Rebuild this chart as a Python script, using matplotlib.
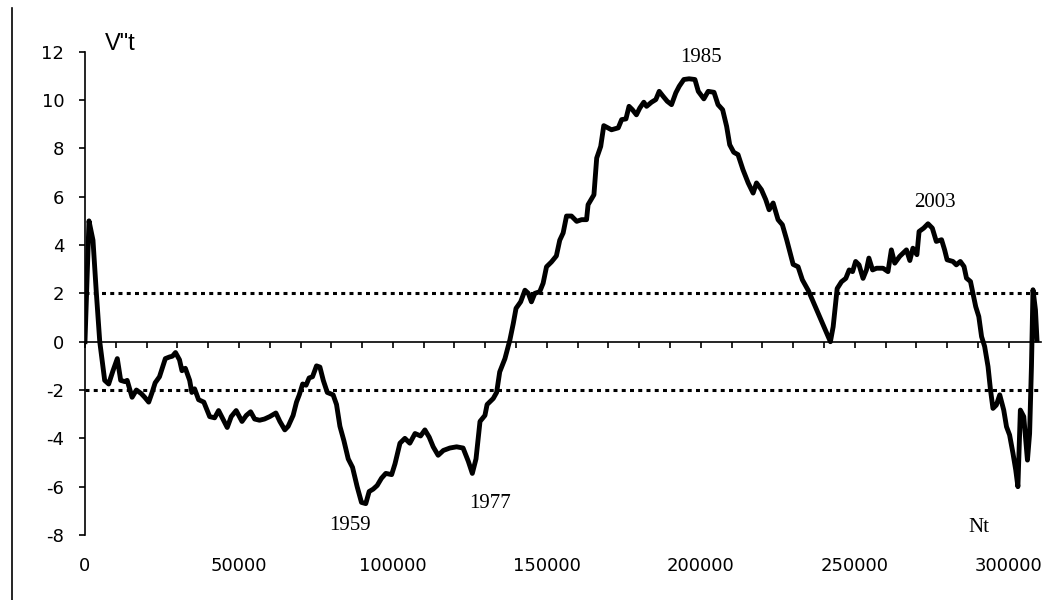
import matplotlib
matplotlib.use("Agg")
import matplotlib.pyplot as plt
from matplotlib.lines import Line2D

plt.rcParams['axes.unicode_minus'] = False
plt.rcParams['font.family'] = ['DejaVu Sans']

# curve V''t against Nt
nt = [0, 1300, 2600, 3700, 4800, 6400, 7700, 9100, 10500, 11600, 12900, 13700,
      15300, 16700, 18300, 19400, 20700, 21800, 22800, 24200, 26100, 27500, 28400,
      29400, 30700, 31500, 32600, 34000, 34700, 35600, 36900, 38600, 40500, 42100,
      43400, 44800, 46200, 47500, 49100, 51000, 52400, 53800, 55100, 56700, 58300,
      60000, 62000, 63300, 64900, 66000, 67600, 68700, 69600, 70700, 71800, 72800,
      73900, 75200, 76300, 77400, 78700, 80600, 81700, 82800, 84100, 85500, 86900,
      88400, 89800, 91200, 92300, 93600, 94900, 96300, 97700, 99600, 100700, 102300,
      103900, 105500, 107200, 109000, 110400, 111800, 113100, 114700, 116400, 118500,
      120700, 122800, 124500, 125800, 127000, 128300, 129900, 130600, 132600, 133700,
      134700, 136400, 138000, 139100, 140000, 141500, 142900, 144000, 145000, 146100,
      147700, 148800, 149900, 151500, 153100, 154200, 155300, 156400, 158000, 159700,
      161300, 162900, 163400, 165300, 166200, 167500, 168500, 171000, 173200, 174300,
      175700, 176700, 177800, 179100, 180200, 181500, 182400, 184000, 185400, 186500,
      187800, 189100, 190500, 191900, 193000, 194500, 196200, 198100, 199200, 201000,
      202400, 204300, 205600, 207100, 208400, 209400, 210700, 212100, 213700, 215400,
      217000, 218100, 219700, 221100, 222200, 223500, 225100, 226500, 227900, 230000,
      231600, 233000, 235000, 238700, 242100, 243000, 244300, 245700, 247100, 248200,
      249300, 250300, 251400, 252700, 253800, 254600, 255800, 257100, 259200, 260800,
      261900, 263000, 264600, 266800, 267900, 268900, 270200, 270900, 272400, 273800,
      275200, 276500, 278200, 279200, 280000, 281900, 283000, 284300, 285500, 286300,
      287600, 288400, 289300, 290300, 291200, 292200, 293300, 294100, 294900, 296000,
      297100, 298400, 299300, 300300, 301400, 302300, 303000, 303800, 304900, 306100,
      306800, 307400, 307900, 308700, 309200]
vt = [0, 5.0, 4.2, 2.0, 0, -1.6, -1.75, -1.2, -0.7, -1.6, -1.65, -1.6,
      -2.3, -2.0, -2.15, -2.3, -2.5, -2.1, -1.7, -1.45, -0.7, -0.63, -0.6,
      -0.45, -0.75, -1.2, -1.1, -1.6, -2.1, -1.95, -2.4, -2.5, -3.1, -3.15,
      -2.85, -3.2, -3.55, -3.1, -2.85, -3.3, -3.05, -2.9, -3.2, -3.25, -3.2,
      -3.1, -2.95, -3.3, -3.65, -3.5, -3.05, -2.5, -2.2, -1.75, -1.8, -1.5,
      -1.45, -1.0, -1.05, -1.6, -2.1, -2.2, -2.6, -3.5, -4.1, -4.85, -5.2,
      -6.0, -6.65, -6.7, -6.2, -6.1, -5.95, -5.65, -5.45, -5.5, -5.05, -4.2,
      -4.0, -4.2, -3.8, -3.9, -3.65, -3.95, -4.35, -4.7, -4.5, -4.4,
      -4.35, -4.4, -4.95, -5.45, -4.85, -3.3, -3.05, -2.6, -2.35, -2.1,
      -1.25, -0.7, 0.07, 0.75, 1.38, 1.65, 2.13, 2.0, 1.65, 2.0,
      2.07, 2.42, 3.1, 3.3, 3.55, 4.2, 4.5, 5.2, 5.2, 4.98,
      5.05, 5.05, 5.67, 6.08, 7.6, 8.08, 8.94, 8.77, 8.85, 9.19,
      9.22, 9.74, 9.6, 9.39, 9.67, 9.91, 9.74, 9.91, 10.02, 10.36,
      10.15, 9.95, 9.81, 10.3, 10.57, 10.85, 10.88, 10.85, 10.36, 10.05,
      10.36, 10.32, 9.81, 9.6, 8.91, 8.15, 7.84, 7.74, 7.12, 6.57,
      6.15, 6.57, 6.29, 5.88, 5.46, 5.74, 5.05, 4.84, 4.22, 3.2,
      3.1, 2.56, 2.1, 1.0, 0, 0.62, 2.2, 2.48, 2.62, 2.97,
      2.9, 3.32, 3.18, 2.62, 2.97, 3.46, 2.97, 3.04, 3.04, 2.9,
      3.8, 3.25, 3.53, 3.8, 3.36, 3.87, 3.6, 4.56, 4.7, 4.88,
      4.7, 4.15, 4.22, 3.8, 3.39, 3.32, 3.18, 3.32, 3.11, 2.63,
      2.49, 2.0, 1.45, 1.04, 0.21, -0.2, -1.03, -2.0, -2.76, -2.62,
      -2.2, -2.83, -3.52, -3.86, -4.62, -5.31, -6.0, -2.83, -3.1, -4.9,
      -3.8, -1.03, 2.15, 1.32, 0.07]

# threshold lines
levels = [2, -2]

# year notes: (label, x, y)
years = [("1959", 86200, -7.6), ("1977", 131400, -6.7),
         ("1985", 200000, 11.75), ("2003", 276000, 5.78)]

x_labels = [0, 50000, 100000, 150000, 200000, 250000, 300000]
y_ticks = [-8, -6, -4, -2, 0, 2, 4, 6, 8, 10, 12]

fig = plt.figure(figsize=(10.53, 6), dpi=100)
ax = fig.add_axes([0.0807, 0.1083, 0.9079, 0.8055])

for lv in levels:
    ax.plot([0, 309500], [lv, lv], color='black', lw=2.2,
            linestyle=(0, (1.3, 1.4)), dash_capstyle='butt')

ax.plot(nt, vt, color='black', lw=3.5, solid_joinstyle='round')

ax.set_xlim(0, 310500)
ax.set_ylim(-8, 12)

ax.spines['top'].set_visible(False)
ax.spines['right'].set_visible(False)
ax.spines['bottom'].set_position(('data', 0))
ax.spines['bottom'].set_linewidth(1.2)
ax.spines['left'].set_linewidth(1.2)

ax.set_xticks(range(0, 310000, 10000))
ax.tick_params(axis='x', direction='out', length=4, width=1.2, labelbottom=False)
ax.set_yticks(y_ticks)
ax.tick_params(axis='y', direction='out', length=4, width=1.2, pad=11, labelsize=13)

sec = ax.secondary_xaxis('bottom')
sec.spines['bottom'].set_visible(False)
sec.set_xticks(x_labels)
sec.set_xticklabels([str(v) for v in x_labels])
sec.tick_params(length=0, pad=16, labelsize=13)

for lab, x, y in years:
    ax.text(x, y, lab, ha='center', va='center', fontsize=15,
            family='Liberation Serif')
ax.text(290300, -7.68, "Nt", ha='center', va='center', fontsize=15,
        family='Liberation Serif')
ax.text(11400, 12.3, 'V"t', ha='center', va='center', fontsize=17,
        family='Liberation Sans')

fig.add_artist(Line2D([12 / 1053, 12 / 1053], [0, 0.987], color='black', lw=1.2))

fig.savefig("out.png", dpi=100)
